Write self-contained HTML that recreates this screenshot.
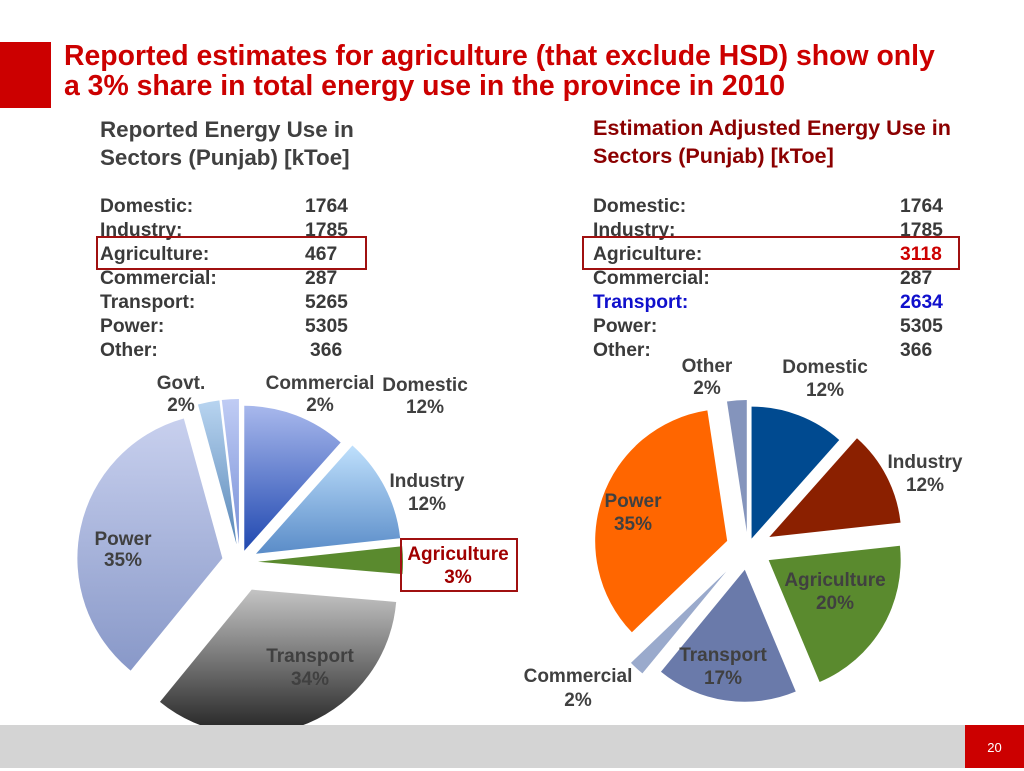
<!DOCTYPE html>
<html><head><meta charset="utf-8"><style>
body{margin:0;width:1024px;height:768px;position:relative;background:#fff;font-family:"Liberation Sans",Arial,sans-serif;overflow:hidden}
.abs{position:absolute}
.title{left:64px;top:41px;color:#cc0000;font-weight:bold;font-size:28.4px;line-height:30px;white-space:nowrap}
.h{font-size:22.4px;line-height:28px;font-weight:bold;white-space:nowrap}
.tbl{font-size:19.3px;font-weight:bold;color:#3a3a3a;line-height:24px}
.row{position:relative;height:24px}
.row span{position:absolute}
</style></head><body>
<div class="abs" style="left:0;top:42px;width:51px;height:66px;background:#cc0000"></div>
<div class="abs title">Reported estimates for agriculture (that exclude HSD) show only<br>a 3% share in total energy use in the province in 2010</div>

<div class="abs h" style="left:100px;top:116px;color:#404040">Reported Energy Use in<br>Sectors (Punjab) [kToe]</div>
<div class="abs tbl" style="left:100px;top:195px;width:300px">
<div class="row"><span>Domestic:</span><span style="left:205px">1764</span></div>
<div class="row"><span>Industry:</span><span style="left:205px">1785</span></div>
<div class="row"><span>Agriculture:</span><span style="left:205px">467</span></div>
<div class="row"><span>Commercial:</span><span style="left:205px">287</span></div>
<div class="row"><span>Transport:</span><span style="left:205px">5265</span></div>
<div class="row"><span>Power:</span><span style="left:205px">5305</span></div>
<div class="row"><span>Other:</span><span style="left:210px">366</span></div>
</div>
<div class="abs" style="left:96px;top:236px;width:271px;height:34px;border:2px solid #a01010;box-sizing:border-box"></div>

<div class="abs h" style="left:593px;top:114px;color:#8b0000;font-size:21.6px">Estimation Adjusted Energy Use in<br>Sectors (Punjab) [kToe]</div>
<div class="abs tbl" style="left:593px;top:195px;width:360px">
<div class="row"><span>Domestic:</span><span style="left:307px">1764</span></div>
<div class="row"><span>Industry:</span><span style="left:307px">1785</span></div>
<div class="row"><span>Agriculture:</span><span style="left:307px;color:#cc0000">3118</span></div>
<div class="row"><span>Commercial:</span><span style="left:307px">287</span></div>
<div class="row" style="color:#1010cc"><span>Transport:</span><span style="left:307px">2634</span></div>
<div class="row"><span>Power:</span><span style="left:307px">5305</span></div>
<div class="row"><span>Other:</span><span style="left:307px">366</span></div>
</div>
<div class="abs" style="left:582px;top:236px;width:378px;height:34px;border:2px solid #a01010;box-sizing:border-box"></div>

<svg class="abs" style="left:0;top:0" width="1024" height="768" id="charts">
<defs>
<linearGradient id="gDom" x1="0" y1="0" x2="0" y2="1"><stop offset="0" stop-color="#a8b8ec"/><stop offset="1" stop-color="#2048b0"/></linearGradient>
<linearGradient id="gInd" x1="0" y1="0" x2="0" y2="1"><stop offset="0" stop-color="#bfe0fc"/><stop offset="1" stop-color="#5a8cc8"/></linearGradient>
<linearGradient id="gTr" x1="0" y1="0" x2="0" y2="1"><stop offset="0" stop-color="#c4c4c4"/><stop offset="1" stop-color="#222"/></linearGradient>
<linearGradient id="gPw" x1="0" y1="0" x2="0" y2="1"><stop offset="0" stop-color="#c8d0ee"/><stop offset="1" stop-color="#8898c8"/></linearGradient>
<linearGradient id="gGv" x1="0" y1="0" x2="0" y2="1"><stop offset="0" stop-color="#b8d4f0"/><stop offset="1" stop-color="#5a88b8"/></linearGradient>
<linearGradient id="gCm" x1="0" y1="0" x2="0" y2="1"><stop offset="0" stop-color="#c0ccf4"/><stop offset="1" stop-color="#7890d8"/></linearGradient>
</defs>
<g id="leftPie"></g><g id="rightPie"></g><g id="labels"></g>
</svg>
<div class="abs" style="left:400px;top:538px;width:118px;height:54px;border:2px solid #a01010;box-sizing:border-box"></div>

<div class="abs" style="left:0;top:725px;width:1024px;height:43px;background:#d4d4d4"></div>
<div class="abs" style="left:965px;top:725px;width:59px;height:43px;background:#cc0000;color:#fff;font-size:13px;text-align:center;line-height:46px">20</div>

<script>
const leftCats=["Domestic","Industry","Agriculture","Transport","Power","Govt.","Commercial"];
const leftVals=[1764,1785,467,5265,5305,366,287];
const leftFills=["url(#gDom)","url(#gInd)","#5a8a2e","url(#gTr)","url(#gPw)","url(#gGv)","url(#gCm)"];
const leftExplode=[12,18,18,30,18,18,18];
const rightCats=["Domestic","Industry","Agriculture","Transport","Commercial","Power","Other"];
const rightVals=[1764,1785,3118,2634,287,5305,366];
const rightFills=["#004a90","#8b2000","#5a8a2e","#6a7aaa","#9aaacc","#ff6600","#8494bc"];
const rightExplode=[10,24,24,22,32,22,16];
const NS="http://www.w3.org/2000/svg";
function drawPie(gid,vals,fills,expl,cx,cy,r,cats){
  const g=document.getElementById(gid);
  const tot=vals.reduce((a,b)=>a+b,0);
  let a0=0;
  vals.forEach((v,i)=>{
    const a1=a0+v/tot*2*Math.PI, am=(a0+a1)/2;
    const ox=cx+expl[i]*Math.sin(am), oy=cy-expl[i]*Math.cos(am);
    const x0=ox+r*Math.sin(a0),y0=oy-r*Math.cos(a0),x1=ox+r*Math.sin(a1),y1=oy-r*Math.cos(a1);
    const p=document.createElementNS(NS,"path");
    p.setAttribute("d",`M${ox},${oy}L${x0},${y0}A${r},${r} 0 ${a1-a0>Math.PI?1:0} 1 ${x1},${y1}Z`);
    p.setAttribute("fill",fills[i]);
    
    
    p.setAttribute("aria-label",cats[i]);
    g.appendChild(p);
    a0=a1;
  });
}
drawPie("leftPie",leftVals,leftFills,leftExplode,240,562,145,leftCats);
drawPie("rightPie",rightVals,rightFills,rightExplode,748,548,132,rightCats);
const labelTexts=[
 ["Govt.",181,389,"#404040"],["2%",181,411,"#404040"],
 ["Commercial",320,389,"#404040"],["2%",320,411,"#404040"],
 ["Domestic",425,391,"#404040"],["12%",425,413,"#404040"],
 ["Industry",427,487,"#404040"],["12%",427,510,"#404040"],
 ["Agriculture",458,560,"#a00000"],["3%",458,583,"#a00000"],
 ["Power",123,545,"#404040"],["35%",123,566,"#404040"],
 ["Transport",310,662,"#404040"],["34%",310,685,"#404040"],
 ["Other",707,372,"#404040"],["2%",707,394,"#404040"],
 ["Domestic",825,373,"#404040"],["12%",825,396,"#404040"],
 ["Industry",925,468,"#404040"],["12%",925,491,"#404040"],
 ["Power",633,507,"#404040"],["35%",633,530,"#404040"],
 ["Agriculture",835,586,"#404040"],["20%",835,609,"#404040"],
 ["Transport",723,661,"#404040"],["17%",723,684,"#404040"],
 ["Commercial",578,682,"#404040"],["2%",578,706,"#404040"]
];
const lg=document.getElementById("labels");
labelTexts.forEach(t=>{
  const e=document.createElementNS(NS,"text");
  e.setAttribute("x",t[1]);e.setAttribute("y",t[2]);
  e.setAttribute("text-anchor","middle");
  e.setAttribute("font-size","19");e.setAttribute("font-weight","bold");
  e.setAttribute("font-family","Liberation Sans, sans-serif");
  e.setAttribute("fill",t[3]);
  
  
  e.textContent=t[0];
  lg.appendChild(e);
});
</script>
</body></html>
